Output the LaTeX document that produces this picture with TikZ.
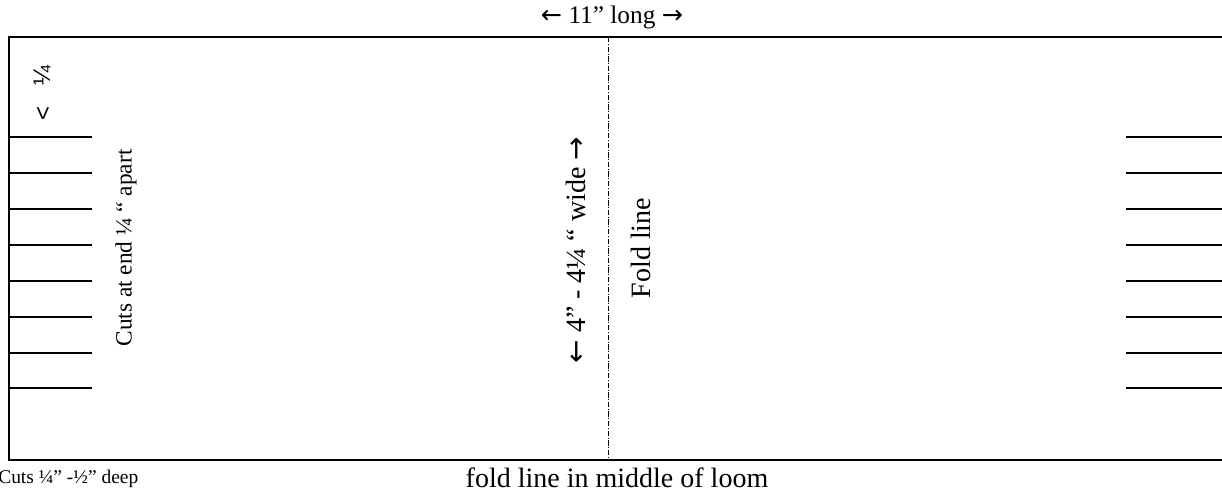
\documentclass[tikz,border=0pt]{standalone}
\usepackage{fontspec}
\setmainfont{Liberation Serif}
\newfontfamily\sansfont{Liberation Sans}
\newfontfamily\arrowfont{DejaVu Sans}
\newcommand{\la}{{\arrowfont ←}}
\newcommand{\ra}{{\arrowfont →}}
\usetikzlibrary{positioning}

\begin{document}
\begin{tikzpicture}[x=0.75pt, y=-0.75pt, inner sep=0pt,
    edge/.style={line width=1.5pt},
    cut/.style={line width=1.5pt},
    fold/.style={line width=0.6pt, dash pattern=on 4pt off 1.2pt on 0.8pt off 1.2pt},
    big/.style={font=\fontsize{21}{24}\selectfont},
    side/.style={font=\fontsize{17.5}{20}\selectfont, rotate=90}]
    \useasboundingbox (0,0) rectangle (1222,492);
    \clip (0,0) rectangle (1222,492);
    % Strip
    \coordinate (tl) at (9,37);
    \coordinate (bl) at (9,460);
    \coordinate (tr) at (1230,37);
    \coordinate (br) at (1230,460);
    \draw [edge] (tr) -- (tl) -- (bl) -- (br);
    \coordinate (ftop) at (608,37);
    \coordinate (fbot) at (608,460);
    \draw [fold] (ftop) -- (fbot);
    % Cuts, left end
    \draw [cut] (9,137) -- (92,137);
    \draw [cut] (9,173) -- (92,173);
    \draw [cut] (9,209) -- (92,209);
    \draw [cut] (9,245) -- (92,245);
    \draw [cut] (9,281) -- (92,281);
    \draw [cut] (9,317) -- (92,317);
    \draw [cut] (9,353) -- (92,353);
    \draw [cut] (9,388) -- (92,388);
    % Cuts, right end
    \draw [cut] (1126,137) -- (1222,137);
    \draw [cut] (1126,173) -- (1222,173);
    \draw [cut] (1126,209) -- (1222,209);
    \draw [cut] (1126,245) -- (1222,245);
    \draw [cut] (1126,281) -- (1222,281);
    \draw [cut] (1126,317) -- (1222,317);
    \draw [cut] (1126,353) -- (1222,353);
    \draw [cut] (1126,388) -- (1222,388);
    % Labels
    \node [font=\fontsize{19}{22}\selectfont] (length) at (612,17) {\la{} 11” long \ra};
    \node [big] (middle) at (617,478) {fold line in middle of loom};
    \node [font=\fontsize{14.6}{17}\selectfont, anchor=west] (depth) at (-2,479) {Cuts ¼” -½” deep};
    \node [side] (apart) at (126,248) {Cuts at end ¼ “ apart};
    \node [big, rotate=90] (width) at (576,250) {\la{} 4” - 4¼ “ wide \ra};
    \node [big, rotate=90] (foldlabel) at (641,248) {Fold line};
    \node [font=\sansfont\fontsize{18}{20}\selectfont, rotate=90] (quarter) at (42,75) {¼};
    \node [font=\sansfont\fontsize{18}{20}\selectfont, rotate=90] (mark) at (44,113) {<};
\end{tikzpicture}
\end{document}
